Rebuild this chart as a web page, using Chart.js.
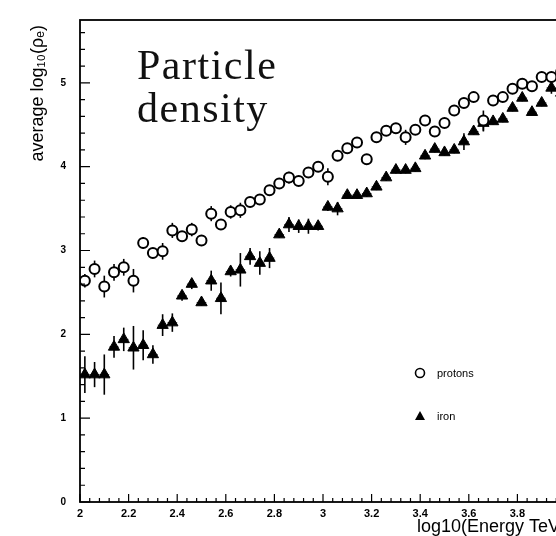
<!DOCTYPE html>
<html>
<head>
<meta charset="utf-8">
<script src="https://cdn.jsdelivr.net/npm/chart.js@4/dist/chart.umd.min.js"></script>
<style>
  html, body { margin: 0; padding: 0; background: #fff; overflow: hidden; }
  #wrap { position: relative; width: 580px; height: 536px; }
  #note {
    position: absolute; left: 137px; top: 44px;
    font-family: "Palatino Linotype", "Book Antiqua", Palatino, "Liberation Serif", serif;
    font-size: 42px; line-height: 43px; letter-spacing: 1.5px; color: #111;
  }
</style>
</head>
<body>
<div id="wrap">
  <canvas id="densityChart"></canvas>
  <div id="note">Particle<br>density</div>
</div>
<script>
//CHART DATA
/*
  @desc: log10 energy bins and mean particle density per primary
*/
const energy = [2.02, 2.06, 2.10, 2.14, 2.18, 2.22, 2.26, 2.30, 2.34, 2.38,
  2.42, 2.46, 2.50, 2.54, 2.58, 2.62, 2.66, 2.70, 2.74, 2.78,
  2.82, 2.86, 2.90, 2.94, 2.98, 3.02, 3.06, 3.10, 3.14, 3.18,
  3.22, 3.26, 3.30, 3.34, 3.38, 3.42, 3.46, 3.50, 3.54, 3.58,
  3.62, 3.66, 3.70, 3.74, 3.78, 3.82, 3.86, 3.90, 3.94, 3.98];

const protons = [2.64, 2.78, 2.57, 2.74, 2.80, 2.64, 3.09, 2.97, 2.99, 3.24,
  3.17, 3.25, 3.12, 3.44, 3.31, 3.46, 3.48, 3.58, 3.61, 3.72,
  3.80, 3.87, 3.83, 3.93, 4.00, 3.88, 4.13, 4.22, 4.29, 4.09,
  4.35, 4.43, 4.46, 4.35, 4.44, 4.55, 4.42, 4.52, 4.67, 4.76,
  4.83, 4.55, 4.79, 4.83, 4.93, 4.99, 4.96, 5.07, 5.07, 5.13];
const protonErr = [0.08, 0.10, 0.13, 0.10, 0.10, 0.14, 0.07, 0.05, 0.10, 0.09,
  0.06, 0.08, 0.06, 0.09, 0.05, 0.08, 0.09, 0.05, 0.05, 0.05,
  0.04, 0.07, 0.06, 0.04, 0.04, 0.10, 0.04, 0.04, 0.04, 0.04,
  0.04, 0.04, 0.04, 0.09, 0.04, 0.04, 0.04, 0.04, 0.04, 0.04,
  0.04, 0.12, 0.04, 0.04, 0.04, 0.04, 0.04, 0.04, 0.04, 0.04];

const iron = [1.52, 1.52, 1.52, 1.85, 1.94, 1.84, 1.87, 1.76, 2.11, 2.14,
  2.46, 2.60, 2.38, 2.64, 2.43, 2.75, 2.77, 2.93, 2.85, 2.91,
  3.19, 3.31, 3.29, 3.29, 3.29, 3.52, 3.50, 3.66, 3.66, 3.68,
  3.76, 3.87, 3.96, 3.96, 3.98, 4.13, 4.21, 4.17, 4.20, 4.30,
  4.42, 4.52, 4.54, 4.57, 4.70, 4.82, 4.65, 4.76, 4.94, 4.88];
const ironErr = [0.22, 0.15, 0.24, 0.13, 0.14, 0.26, 0.18, 0.11, 0.13, 0.11,
  0.06, 0.06, 0.04, 0.12, 0.19, 0.06, 0.20, 0.10, 0.14, 0.12,
  0.04, 0.09, 0.08, 0.09, 0.05, 0.05, 0.08, 0.04, 0.04, 0.04,
  0.04, 0.04, 0.04, 0.04, 0.04, 0.04, 0.04, 0.04, 0.04, 0.10,
  0.04, 0.10, 0.04, 0.04, 0.04, 0.04, 0.04, 0.04, 0.07, 0.04];

const seriesNames = ["protons", "iron"];
const binHalfWidth = 0.02;

/*
  @desc: error bars drawn under the markers
*/
const errorBars = {
  id: "errorBars",
  beforeDatasetsDraw(chart) {
    const ctx = chart.ctx;
    const xs = chart.scales.x;
    const ys = chart.scales.y;
    const errs = [protonErr, ironErr];
    ctx.save();
    chart.data.datasets.forEach((ds, d) => {
      ds.data.forEach((p, i) => {
        const px = xs.getPixelForValue(p.x);
        ctx.strokeStyle = "#000";
        ctx.lineWidth = 1.6;
        ctx.setLineDash([]);
        ctx.beginPath();
        ctx.moveTo(px, ys.getPixelForValue(p.y - errs[d][i]));
        ctx.lineTo(px, ys.getPixelForValue(p.y + errs[d][i]));
        ctx.stroke();
        const py = ys.getPixelForValue(p.y);
        ctx.strokeStyle = "#555";
        ctx.lineWidth = 1;
        ctx.setLineDash([2, 2]);
        ctx.beginPath();
        ctx.moveTo(xs.getPixelForValue(p.x - binHalfWidth), py);
        ctx.lineTo(xs.getPixelForValue(p.x + binHalfWidth), py);
        ctx.stroke();
      });
    });
    ctx.restore();
  },
};

/*
  @desc: frame with inward major/minor ticks like the old paper plot
*/
const frameTicks = {
  id: "frameTicks",
  afterDraw(chart) {
    const ctx = chart.ctx;
    const a = chart.chartArea;
    const xs = chart.scales.x;
    const ys = chart.scales.y;
    ctx.save();
    ctx.strokeStyle = "#000";
    ctx.lineWidth = 1.8;
    ctx.strokeRect(a.left, a.top, a.right - a.left, a.bottom - a.top);
    ctx.lineWidth = 1.2;
    ctx.beginPath();
    for (let i = 0; i <= 28; i++) {
      const py = ys.getPixelForValue(i / 5);
      const len = i % 5 === 0 ? 10 : 5;
      ctx.moveTo(a.left, py);
      ctx.lineTo(a.left + len, py);
    }
    for (let i = 0; i <= 50; i++) {
      const px = xs.getPixelForValue(2 + i / 25);
      const len = i % 5 === 0 ? 8 : 4;
      ctx.moveTo(px, a.bottom);
      ctx.lineTo(px, a.bottom - len);
    }
    ctx.stroke();
    ctx.restore();
  },
};

/*
  @desc: small legend inside the plot
*/
const innerLegend = {
  id: "innerLegend",
  afterDraw(chart) {
    const ctx = chart.ctx;
    const rows = [373, 416];
    ctx.save();
    ctx.font = "11px 'Liberation Sans', Arial, sans-serif";
    ctx.textBaseline = "middle";
    ctx.fillStyle = "#000";
    chart.data.datasets.forEach((ds, d) => {
      const y = rows[d];
      const x = 420;
      ctx.strokeStyle = "#000";
      if (ds.pointStyle === "circle") {
        ctx.lineWidth = 1.6;
        ctx.beginPath();
        ctx.arc(x, y, 4.5, 0, Math.PI * 2);
        ctx.fillStyle = "#fff";
        ctx.fill();
        ctx.stroke();
      } else {
        ctx.fillStyle = "#000";
        ctx.beginPath();
        ctx.moveTo(x, y - 5);
        ctx.lineTo(x + 5, y + 4);
        ctx.lineTo(x - 5, y + 4);
        ctx.closePath();
        ctx.fill();
      }
      ctx.fillStyle = "#000";
      ctx.fillText(ds.label, 437, y + 1);
    });
    ctx.restore();
  },
};

let config = {
  type: "scatter",
  data: {
    datasets: [
      {
        label: seriesNames[0],
        data: energy.map((e, i) => ({ x: e, y: protons[i] })),
        pointStyle: "circle",
        pointRadius: 5,
        pointBorderWidth: 2,
        borderColor: "#000",
        backgroundColor: "#fff",
      },
      {
        label: seriesNames[1],
        data: energy.map((e, i) => ({ x: e, y: iron[i] })),
        pointStyle: "triangle",
        pointRadius: 6.5,
        pointBorderWidth: 1,
        borderColor: "#000",
        backgroundColor: "#000",
      },
    ],
  },
  options: {
    responsive: true,
    maintainAspectRatio: false,
    animation: false,
    layout: { padding: { top: 16, right: 14, left: 0, bottom: 0 } },
    plugins: {
      legend: { display: false },
      tooltip: { enabled: false },
    },
    scales: {
      x: {
        type: "linear",
        min: 2,
        max: 4,
        grid: { display: false, drawTicks: false },
        border: { display: false },
        ticks: {
          stepSize: 0.2,
          autoSkip: false,
          maxRotation: 0,
          padding: 5,
          color: "#000",
          font: { family: "'Liberation Sans', Arial, sans-serif", size: 11, weight: "bold" },
          callback: (v) => String(Math.round(v * 10) / 10),
        },
        title: {
          display: true,
          text: "log10(Energy TeV)",
          align: "end",
          color: "#000",
          padding: { top: 0, bottom: 0 },
          font: { family: "'Liberation Sans', Arial, sans-serif", size: 18, lineHeight: 0.95 },
        },
        afterFit(scale) { scale.height = 34; },
      },
      y: {
        min: 0,
        max: 5.75,
        grid: { display: false, drawTicks: false },
        border: { display: false },
        ticks: {
          stepSize: 1,
          includeBounds: false,
          padding: 14,
          color: "#000",
          font: { family: "'Liberation Sans', Arial, sans-serif", size: 10, weight: "bold" },
          callback: (v) => (Number.isInteger(v) ? v : ""),
        },
        title: {
          display: true,
          text: "average log₁₀(ρₑ) ",
          align: "end",
          color: "#000",
          padding: { top: 27, bottom: 0 },
          font: { family: "'Liberation Sans', Arial, sans-serif", size: 18 },
        },
        afterFit(scale) { scale.width = 80; },
      },
    },
  },
  plugins: [errorBars, frameTicks, innerLegend],
};

const densityChart = new Chart(document.getElementById("densityChart"), config);
</script>
</body>
</html>
